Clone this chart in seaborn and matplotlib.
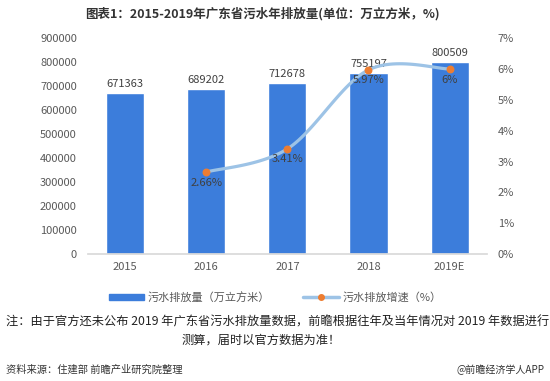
import numpy as np
import pandas as pd
import matplotlib
matplotlib.use('Agg')
import matplotlib.pyplot as plt
import seaborn as sns
from matplotlib.lines import Line2D
from matplotlib.patches import Patch

years = ['2015', '2016', '2017', '2018', '2019E']
volume = [671363, 689202, 712678, 755197, 800509]
growth = [None, 2.66, 3.41, 5.97, 6.0]
growth_labels = ['', '2.66%', '3.41%', '5.97%', '6%']

sns.set_theme(style='white')
plt.rcParams['font.family'] = ['Noto Sans CJK SC', 'DejaVu Sans']

bar_color = '#3c7ddb'
line_color = '#9dc3e6'
dot_color = '#ed7d31'
txt = '#595959'

df = pd.DataFrame({'year': years, 'volume': volume})

fig = plt.figure(figsize=(5.5, 3.81), dpi=100)
ax = fig.add_axes([0.16, 0.333, 0.725, 0.567])
sns.barplot(data=df, x='year', y='volume', color=bar_color, width=0.47,
            saturation=1, ax=ax)
ax.set_ylim(0, 900000)
ax.set_yticks(range(0, 900001, 100000))
ax.set_xlabel('')
ax.set_ylabel('')
for s in ['top', 'right', 'left']:
    ax.spines[s].set_visible(False)
ax.spines['bottom'].set_color('#d9d9d9')
ax.tick_params(axis='both', labelsize=8, colors=txt, length=0)
ax.tick_params(axis='x', pad=6)
ax.tick_params(axis='y', pad=8)
for i, v in enumerate(volume):
    ax.text(i, v + 15000, str(v), ha='center', va='bottom', fontsize=8, color='#404040')

ax2 = ax.twinx()
ax2.set_ylim(0, 7)
ax2.set_yticks(range(0, 8))
ax2.set_yticklabels([f'{i}%' for i in range(8)])
for s in ['top', 'right', 'left', 'bottom']:
    ax2.spines[s].set_visible(False)
ax2.tick_params(axis='y', labelsize=8, colors=txt, length=0, pad=8)

# smooth line through the growth points (Catmull-Rom)
xs = np.array([1, 2, 3, 4], dtype=float)
ys = np.array(growth[1:], dtype=float)
px = np.concatenate([[xs[0]], xs, [xs[-1]]])
py = np.concatenate([[ys[0]], ys, [ys[-1]]])
cx, cy = [], []
for k in range(1, len(px) - 2):
    t = np.linspace(0, 1, 30)
    p0, p1, p2, p3 = [np.array([px[j], py[j]]) for j in range(k - 1, k + 3)]
    pts = 0.5 * ((2 * p1)[:, None] + (-p0 + p2)[:, None] * t
                 + (2 * p0 - 5 * p1 + 4 * p2 - p3)[:, None] * t ** 2
                 + (-p0 + 3 * p1 - 3 * p2 + p3)[:, None] * t ** 3)
    cx.extend(pts[0]); cy.extend(pts[1])
ax2.plot(cx, cy, color=line_color, lw=2.3, zorder=3)
ax2.scatter(xs, ys, color=dot_color, s=22, zorder=4)
for x, y, lab in zip(xs, ys, growth_labels[1:]):
    ax2.text(x, y - 0.18, lab, ha='center', va='top', fontsize=8, color='#404040', zorder=5)

fig.text(0.478, 0.965, '图表1：2015-2019年广东省污水年排放量(单位：万立方米，%)',
         ha='center', va='center', fontsize=9, fontweight='bold', color='#333333')

handles = [Patch(color=bar_color),
           Line2D([0], [0], color=line_color, lw=2.5, marker='o',
                  markerfacecolor=dot_color, markeredgecolor=dot_color, markersize=4)]
fig.legend(handles, ['污水排放量（万立方米）', '污水排放增速（%）'], loc='center',
           bbox_to_anchor=(0.5, 0.22), ncol=2, frameon=False, fontsize=8,
           handlelength=3.2, handleheight=0.5, columnspacing=3,
           labelcolor=txt, handletextpad=0.3)

fig.text(0.01, 0.155, '注：由于官方还未公布 2019 年广东省污水排放量数据，前瞻根据往年及当年情况对 2019 年数据进行',
         ha='left', va='center', fontsize=8.8, color='#222222')
fig.text(0.475, 0.108, '测算，届时以官方数据为准！', ha='center', va='center', fontsize=8.8, color='#222222')
fig.text(0.01, 0.03, '资料来源：住建部 前瞻产业研究院整理', ha='left', va='center', fontsize=7.4, color='#333333')
fig.text(0.99, 0.03, '@前瞻经济学人APP', ha='right', va='center', fontsize=7.2, color='#333333')

fig.savefig('out.png', dpi=100)
